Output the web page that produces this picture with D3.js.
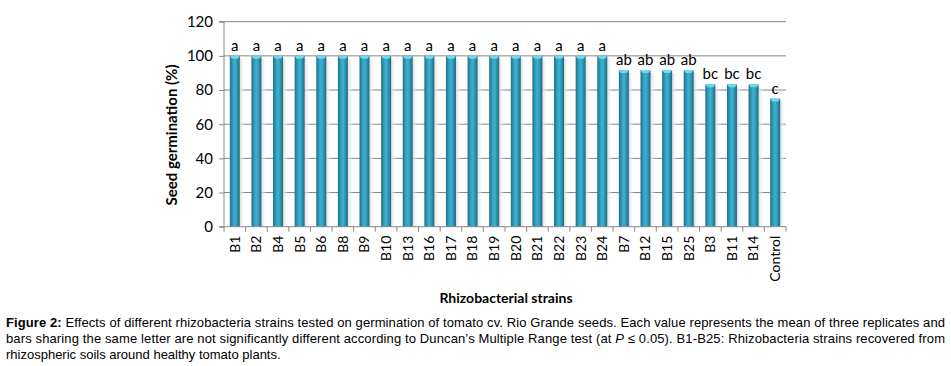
<!DOCTYPE html>
<html><head><meta charset="utf-8">
<script src="https://cdn.jsdelivr.net/npm/d3@7"></script>
<style>body{margin:0;background:#fff}svg{display:block}</style>
</head><body>
<svg id="c" width="951" height="366"></svg>
<script>
const categories = ["B1","B2","B4","B5","B6","B8","B9","B10","B13","B16","B17","B18","B19","B20","B21","B22","B23","B24","B7","B12","B15","B25","B3","B11","B14","Control"];
const values = [100,100,100,100,100,100,100,100,100,100,100,100,100,100,100,100,100,100,91.67,91.67,91.67,91.67,83.33,83.33,83.33,75];
const letters = ["a","a","a","a","a","a","a","a","a","a","a","a","a","a","a","a","a","a","ab","ab","ab","ab","bc","bc","bc","c"];
const yTicks = [0,20,40,60,80,100,120];
const yTitle = "Seed germination (%)";
const xTitle = "Rhizobacterial strains";

const svg = d3.select("#c");
const m = {l:224, r:786, t:21.7, b:226.7};
const x = d3.scaleBand().domain(categories).range([m.l, m.r]);
const y = d3.scaleLinear().domain([0,120]).range([m.b, m.t]);
const font = "Lato, 'Open Sans', sans-serif";

const defs = svg.append("defs");
const g1 = defs.append("linearGradient").attr("id","bar").attr("x1","0").attr("x2","1").attr("y1","0").attr("y2","0");
[[0,"#1f6f88"],[0.35,"#36a6c6"],[0.55,"#3cb0cf"],[1,"#1c6a83"]].forEach(s=>g1.append("stop").attr("offset",s[0]).attr("stop-color",s[1]));
const g2 = defs.append("linearGradient").attr("id","shadow").attr("x1","0").attr("x2","1");
g2.append("stop").attr("offset",0).attr("stop-color","#d8d8d8");
g2.append("stop").attr("offset",1).attr("stop-color","#ffffff").attr("stop-opacity",0);

// gridlines
svg.append("g").selectAll("line").data(yTicks.filter(d=>d>0)).join("line")
  .attr("x1",m.l).attr("x2",m.r).attr("y1",d=>y(d)).attr("y2",d=>y(d))
  .attr("stroke","#878787").attr("stroke-width",1);

const bw = 10;
const bars = svg.append("g").selectAll("g").data(categories).join("g");
bars.append("rect")
  .attr("x",d=>x(d)+x.bandwidth()/2+bw/2).attr("width",5)
  .attr("y",(d,i)=>y(values[i])+3).attr("height",(d,i)=>m.b-y(values[i])-3)
  .attr("fill","url(#shadow)");
bars.append("rect")
  .attr("x",d=>x(d)+x.bandwidth()/2-bw/2).attr("width",bw)
  .attr("y",(d,i)=>y(values[i])).attr("height",(d,i)=>m.b-y(values[i]))
  .attr("fill","url(#bar)");
bars.append("path")
  .attr("d",(d,i)=>{const cx=x(d)+x.bandwidth()/2, yy=y(values[i]);
    return `M${cx-bw/2},${yy}L${cx+bw/2},${yy}L${cx+bw/2-2},${yy+3}L${cx-bw/2+2},${yy+3}Z`;})
  .attr("fill","#6fd7ef");
bars.append("text")
  .attr("x",d=>x(d)+x.bandwidth()/2).attr("y",(d,i)=>y(values[i])-5)
  .attr("text-anchor","middle").attr("font-family",font).attr("font-size",15)
  .attr("fill","#000").text((d,i)=>letters[i]);

// y axis
const ya = svg.append("g").attr("transform",`translate(${m.l},0)`)
  .call(d3.axisLeft(y).tickValues(yTicks).tickSize(5).tickPadding(6));
ya.select(".domain").attr("stroke","#878787").attr("d",`M-5,${m.b}H0V${m.t}H-5`);
ya.selectAll(".tick line").attr("stroke","#878787");
ya.selectAll("text").attr("font-family",font).attr("font-size",15).attr("fill","#000");

// x axis
const xa = svg.append("g").attr("transform",`translate(0,${m.b})`)
  .call(d3.axisBottom(x).tickSize(0).tickPadding(0));
xa.select(".domain").attr("stroke","#878787").attr("d",`M${m.l},0H${m.r}`);
xa.selectAll(".tick text").attr("font-family",font).attr("font-size",14).attr("fill","#000")
  .attr("transform","rotate(-90)").attr("text-anchor","end").attr("x",-9).attr("y",0).attr("dy","0.35em");
svg.append("g").selectAll("line").data(d3.range(categories.length+1)).join("line")
  .attr("x1",i=>m.l+i*x.step()).attr("x2",i=>m.l+i*x.step())
  .attr("y1",m.b).attr("y2",m.b+5).attr("stroke","#878787");

svg.append("text").attr("transform",`translate(177,135) rotate(-90)`)
  .attr("text-anchor","middle").attr("font-family",font).attr("font-weight","bold").attr("font-size",15)
  .text(yTitle);
svg.append("text").attr("x",506).attr("y",303).attr("text-anchor","middle")
  .attr("font-family",font).attr("font-weight","bold").attr("font-size",14).text(xTitle);

// caption
const cf = "'Liberation Sans', Arial, sans-serif";
const cap = svg.append("g").attr("font-family",cf).attr("font-size",13).attr("fill","#000");
const l1 = cap.append("text").attr("x",6).attr("y",327).attr("textLength",939).attr("lengthAdjust","spacing");
l1.append("tspan").attr("font-weight","bold").text("Figure 2:");
l1.append("tspan").text(" Effects of different rhizobacteria strains tested on germination of tomato cv. Rio Grande seeds. Each value represents the mean of three replicates and");
const l2 = cap.append("text").attr("x",6).attr("y",343).attr("textLength",939).attr("lengthAdjust","spacing");
l2.append("tspan").text("bars sharing the same letter are not significantly different according to Duncan\u2019s Multiple Range test (at ");
l2.append("tspan").attr("font-style","italic").text("P");
l2.append("tspan").text(" \u2264 0.05). B1-B25:  Rhizobacteria strains recovered from");
cap.append("text").attr("x",6).attr("y",359).text("rhizospheric soils around healthy tomato plants.");
</script>
</body></html>
